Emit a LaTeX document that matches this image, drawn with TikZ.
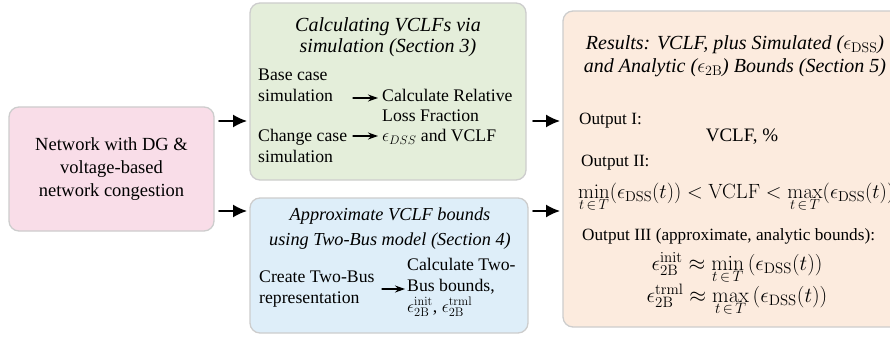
\RequirePackage{fix-cm}
\documentclass[tikz,border=0pt]{standalone}
\usepackage[no-math]{fontspec}
\setmainfont{Liberation Serif}
\usetikzlibrary{arrows.meta}
\definecolor{pinkbox}{RGB}{249,221,232}
\definecolor{greenbox}{RGB}{228,238,218}
\definecolor{bluebox}{RGB}{222,238,249}
\definecolor{orangebox}{RGB}{252,235,222}
\definecolor{boxline}{RGB}{205,205,205}
\begin{document}
\begin{tikzpicture}[x=1pt,y=-1pt, font=\fontsize{17.7}{21}\selectfont, line join=round, line cap=round,
	box/.style={draw=boxline, line width=1.3pt, rounded corners=10pt, inner sep=0pt},
	bigarrow/.style={-{Latex[length=14pt,width=13pt]}, line width=1.6pt},
	smallarrow/.style={-{Stealth[length=10pt,width=7pt]}, line width=1.2pt},
	txt/.style={align=left, anchor=base west, inner sep=0pt},
	outtxt/.style={txt, font=\fontsize{17.2}{21}\selectfont},
	eq/.style={anchor=base, inner sep=0pt, font=\fontsize{21.5}{22}\selectfont},
	head/.style args={#1/#2}{align=center, anchor=base, inner sep=0pt, font=\fontsize{#1}{#2}\selectfont\itshape}]
	\useasboundingbox (0,0) rectangle (890,339);
	% boxes
	\node[box, fill=pinkbox, minimum width=205pt, minimum height=124pt, align=center, font=\fontsize{18.5}{22.7}\selectfont] (net) at (111.5,169) {Network with DG \&\\voltage-based\\network congestion};
	\node[box, fill=greenbox, minimum width=276pt, minimum height=177pt] (sim) at (388,91.5) {};
	\node[box, fill=bluebox, minimum width=278pt, minimum height=135pt] (twobus) at (389,265.5) {};
	\node[box, fill=orangebox, minimum width=344pt, minimum height=316pt] (res) at (735,169) {};
	\path
	(219,121)coordinate(L1)
	(247,121)coordinate(G1)
	(219,211)coordinate(L2)
	(247,211)coordinate(B1)
	(533,121)coordinate(G2)
	(560,121)coordinate(R1)
	(533,211)coordinate(B2)
	(560,211)coordinate(R2)
	;
	\foreach \a/\b in {L1/G1,L2/B1,G2/R1,B2/R2} \draw[bigarrow](\a)--(\b);
	% simulation box
	\node[head=20/21] (simhead) at (388,53) {Calculating VCLFs via\\simulation (Section 3)};
	\node[txt] (base) at (258,102) {Base case\\simulation};
	\node[txt] (change) at (258,163) {Change case\\simulation};
	\node[txt, font=\fontsize{17.7}{20}\selectfont] (calc) at (382,142) {Calculate Relative\\Loss Fraction\\$\epsilon_{DSS}$ and VCLF};
	\path
	(353,98)coordinate(s1)
	(378,98)coordinate(e1)
	(353,136)coordinate(s2)
	(378,136)coordinate(e2)
	(382,289)coordinate(s3)
	(405,289)coordinate(e3)
	;
	\foreach \a/\b in {s1/e1,s2/e2,s3/e3} \draw[smallarrow](\a)--(\b);
	% two-bus box
	\node[head=18.3/25] (twohead) at (390,245) {Approximate VCLF bounds\\using Two-Bus model (Section 4)};
	\node[txt] (create) at (259,303) {Create Two-Bus\\representation};
	\node[txt] (calc2) at (407,312) {Calculate Two-\\Bus bounds,\\$\epsilon_{\rm 2B}^{\rm init}$, $\epsilon_{\rm 2B}^{\rm trml}$};
	% results box
	\node[head=20/23] (reshead) at (735,73) {Results: VCLF, plus Simulated ($\epsilon_{\rm DSS}$)\\and Analytic ($\epsilon_{\rm 2B}$) Bounds (Section 5)};
	\node[outtxt] (out1) at (579,125) {Output I:};
	\node[anchor=base, inner sep=0pt, font=\fontsize{19}{21}\selectfont] (vclf) at (742,142) {VCLF, \%};
	\node[outtxt] (out2) at (581,167) {Output II:};
	\node[txt, font=\fontsize{20.6}{22}\selectfont] (bound) at (578,198) {$\min\limits_{t\,\in\,T}(\epsilon_{\rm DSS}(t)) < \mathrm{VCLF} < \max\limits_{t\,\in\,T}(\epsilon_{\rm DSS}(t))$};
	\node[outtxt] (out3) at (582,240) {Output III (approximate, analytic bounds):};
	\node[eq] (init) at (737,270) {$\epsilon_{\rm 2B}^{\rm init} \approx \min\limits_{t\,\in\,T}\left(\epsilon_{\rm DSS}(t)\right)$};
	\node[eq] (trml) at (737,302) {$\epsilon_{\rm 2B}^{\rm trml} \approx \max\limits_{t\,\in\,T}\left(\epsilon_{\rm DSS}(t)\right)$};
\end{tikzpicture}
\end{document}
